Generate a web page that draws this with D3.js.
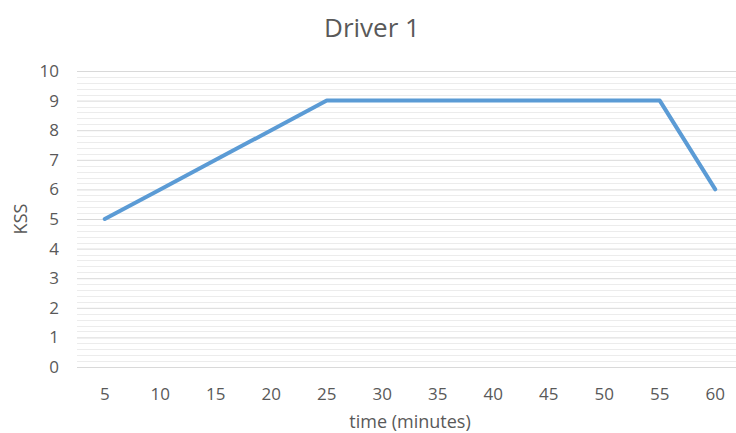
<!DOCTYPE html>
<html>
<head>
<meta charset="utf-8">
<script src="https://cdn.jsdelivr.net/npm/d3@7"></script>
<style>
  html, body { margin: 0; padding: 0; background: #fff; }
  svg { display: block; font-family: "Open Sans", "Noto Sans", sans-serif; }
</style>
</head>
<body>
<svg id="chart" width="736" height="433"></svg>
<script>
// Driver 1 sleepiness (KSS) over driving time
const times = [5, 10, 15, 20, 25, 30, 35, 40, 45, 50, 55, 60];
const kss = [5, 6, 7, 8, 9, 9, 9, 9, 9, 9, 9, 6];
const yTicks = [0, 1, 2, 3, 4, 5, 6, 7, 8, 9, 10];

const svg = d3.select("#chart");
const plot = { left: 77, right: 743, top: 71, bottom: 367 };
const textColor = "#595959";

const x = d3.scaleBand().domain(times).range([plot.left, plot.right]);
const y = d3.scaleLinear().domain([0, 10]).range([plot.bottom, plot.top]);

// minor gridlines every 0.2
const minor = d3.range(0, 10.001, 0.2).filter(v => Math.abs(v - Math.round(v)) > 1e-6);
svg.append("g").selectAll("line").data(minor).join("line")
  .attr("x1", plot.left).attr("x2", plot.right)
  .attr("y1", d => Math.round(y(d)) + 0.5).attr("y2", d => Math.round(y(d)) + 0.5)
  .attr("stroke", "#ececec").attr("stroke-width", 1);

// major gridlines
svg.append("g")
  .attr("transform", `translate(${plot.left},0)`)
  .call(d3.axisLeft(y).tickValues(yTicks).tickSize(-(plot.right - plot.left)).tickFormat(""))
  .call(g => g.select(".domain").remove())
  .call(g => g.selectAll("line").attr("stroke", "#d9d9d9"));

// y tick labels
svg.append("g")
  .attr("transform", `translate(${plot.left},0)`)
  .call(d3.axisLeft(y).tickValues(yTicks).tickSize(0).tickPadding(18))
  .call(g => g.select(".domain").remove())
  .call(g => g.selectAll("text").attr("fill", textColor).attr("font-size", 17).attr("font-family", "Open Sans, sans-serif"));

// x tick labels
svg.append("g")
  .attr("transform", `translate(0,${plot.bottom})`)
  .call(d3.axisBottom(x).tickSize(0).tickPadding(21))
  .call(g => g.select(".domain").remove())
  .call(g => g.selectAll("text").attr("fill", textColor).attr("font-size", 17).attr("font-family", "Open Sans, sans-serif"));

// KSS line
const line = d3.line()
  .x((d, i) => x(times[i]) + x.bandwidth() / 2)
  .y(d => y(d));
svg.append("path")
  .datum(kss)
  .attr("d", line)
  .attr("fill", "none")
  .attr("stroke", "#5b9bd5")
  .attr("stroke-width", 4)
  .attr("stroke-linejoin", "round")
  .attr("stroke-linecap", "round");

// titles
svg.append("text")
  .attr("x", 372).attr("y", 37)
  .attr("text-anchor", "middle")
  .attr("fill", textColor).attr("font-size", 26)
  .text("Driver 1");

svg.append("text")
  .attr("x", 410).attr("y", 428)
  .attr("text-anchor", "middle")
  .attr("fill", textColor).attr("font-size", 18)
  .text("time (minutes)");

svg.append("text")
  .attr("transform", `translate(27,${(plot.top + plot.bottom) / 2}) rotate(-90)`)
  .attr("text-anchor", "middle")
  .attr("fill", textColor).attr("font-size", 18)
  .text("KSS");
</script>
</body>
</html>
